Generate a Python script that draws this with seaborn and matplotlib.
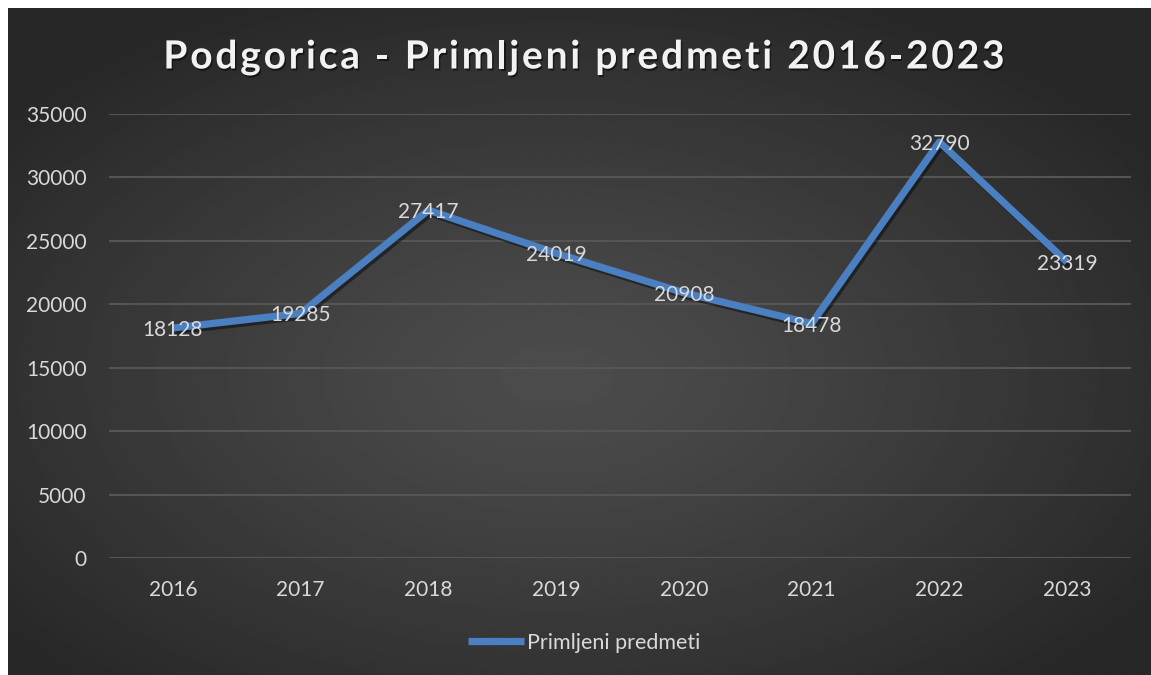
import numpy as np
import pandas as pd
import matplotlib
matplotlib.use("Agg")
import matplotlib.pyplot as plt
import matplotlib.patheffects as pe
import seaborn as sns

years = ["2016", "2017", "2018", "2019", "2020", "2021", "2022", "2023"]
values = [18128, 19285, 27417, 24019, 20908, 18478, 32790, 23319]
series_name = "Primljeni predmeti"
title = "Podgorica - Primljeni predmeti 2016-2023"
yticks = [0, 5000, 10000, 15000, 20000, 25000, 30000, 35000]

sns.set_theme(style="dark")
plt.rcParams['font.family'] = ['Lato', 'DejaVu Sans']

W, H = 1151, 675
fig = plt.figure(figsize=(W / 100, H / 100), dpi=100)
fig.patch.set_facecolor("white")

# background panel with radial gradient
bg = fig.add_axes([8 / W, 0, (W - 8) / W, (H - 8) / H])
bg.set_axis_off()
ny, nx = 300, 500
yy, xx = np.mgrid[0:ny, 0:nx]
cx, cy = nx * 0.48, ny * 0.55
r = np.sqrt(((xx - cx) / (nx * 0.62)) ** 2 + ((yy - cy) / (ny * 0.62)) ** 2)
r = np.clip(r, 0, 1)
c_center, c_edge = 0.30, 0.155
img = c_center + (c_edge - c_center) * r ** 1.2
bg.imshow(img, cmap="gray", vmin=0, vmax=1, aspect="auto", extent=[0, 1, 0, 1])
bg.set_xlim(0, 1)
bg.set_ylim(0, 1)

# plot area
left, right = 109, 1131
top, bottom = 114, 558
ax = fig.add_axes([left / W, 1 - bottom / H, (right - left) / W, (bottom - top) / H])
ax.patch.set_alpha(0)

df = pd.DataFrame({"x": np.arange(len(years)), "value": values})
sns.lineplot(data=df, x="x", y="value", ax=ax, color="#4a7fc1", linewidth=5.2,
             label=series_name, legend=False,
             path_effects=[pe.SimpleLineShadow(offset=(1.5, -2), alpha=0.45, shadow_color="black"),
                           pe.Normal()])
ax.lines[0].set_solid_capstyle("butt")

for i, v in enumerate(values):
    ax.annotate(str(v), (i, v), xytext=(0, -1.5), textcoords="offset points",
                ha="center", va="center", fontsize=15, color="#d9d9d9")

ax.set_xlim(-0.5, len(years) - 0.5)
ax.set_ylim(0, 35000)
ax.set_yticks(yticks)
ax.set_yticklabels([str(t) for t in yticks])
ax.set_xticks(np.arange(len(years)))
ax.set_xticklabels(years)
ax.tick_params(axis="both", colors="#d9d9d9", labelsize=15, length=0)
ax.tick_params(axis="y", pad=16)
ax.tick_params(axis="x", pad=16)
for lab in ax.get_xticklabels() + ax.get_yticklabels():
    lab.set_color("#d9d9d9")
ax.set_xlabel("")
ax.set_ylabel("")
ax.grid(axis="y", color="#555555", linewidth=1.5)
ax.grid(axis="x", visible=False)
for s in ax.spines.values():
    s.set_visible(False)
ax.set_axisbelow(True)

# title with letter spacing
renderer = fig.canvas.get_renderer()
tprops = dict(fontsize=28, fontweight="bold", color="#f2f2f2")


def text_width(s):
    t = fig.text(0, 0, s, **tprops)
    w = t.get_window_extent(renderer).width
    t.remove()
    return w


spacing = 2.8
wx = text_width("x")
positions = [0.0] + [text_width(title[:i] + "x") - wx for i in range(1, len(title))]
total = text_width(title) + spacing * (len(title) - 1)
x0 = 584 - total / 2
for i, ch in enumerate(title):
    if ch == " ":
        continue
    fig.text((x0 + positions[i] + i * spacing) / W, 1 - 57 / H, ch, ha="left", va="center",
             path_effects=[pe.withSimplePatchShadow(offset=(1, -1.5), alpha=0.5,
                                                     shadow_rgbFace="black")],
             **tprops)

leg = fig.legend(handles=[ax.lines[0]], labels=[series_name], loc="center",
                 bbox_to_anchor=(584 / W, 1 - 643 / H), frameon=False, fontsize=15.5,
                 handlelength=2.6, handletextpad=0.15, labelcolor="#d9d9d9")
for h in leg.legend_handles:
    h.set_path_effects([])

fig.savefig("out.png", dpi=100, facecolor=fig.get_facecolor())
